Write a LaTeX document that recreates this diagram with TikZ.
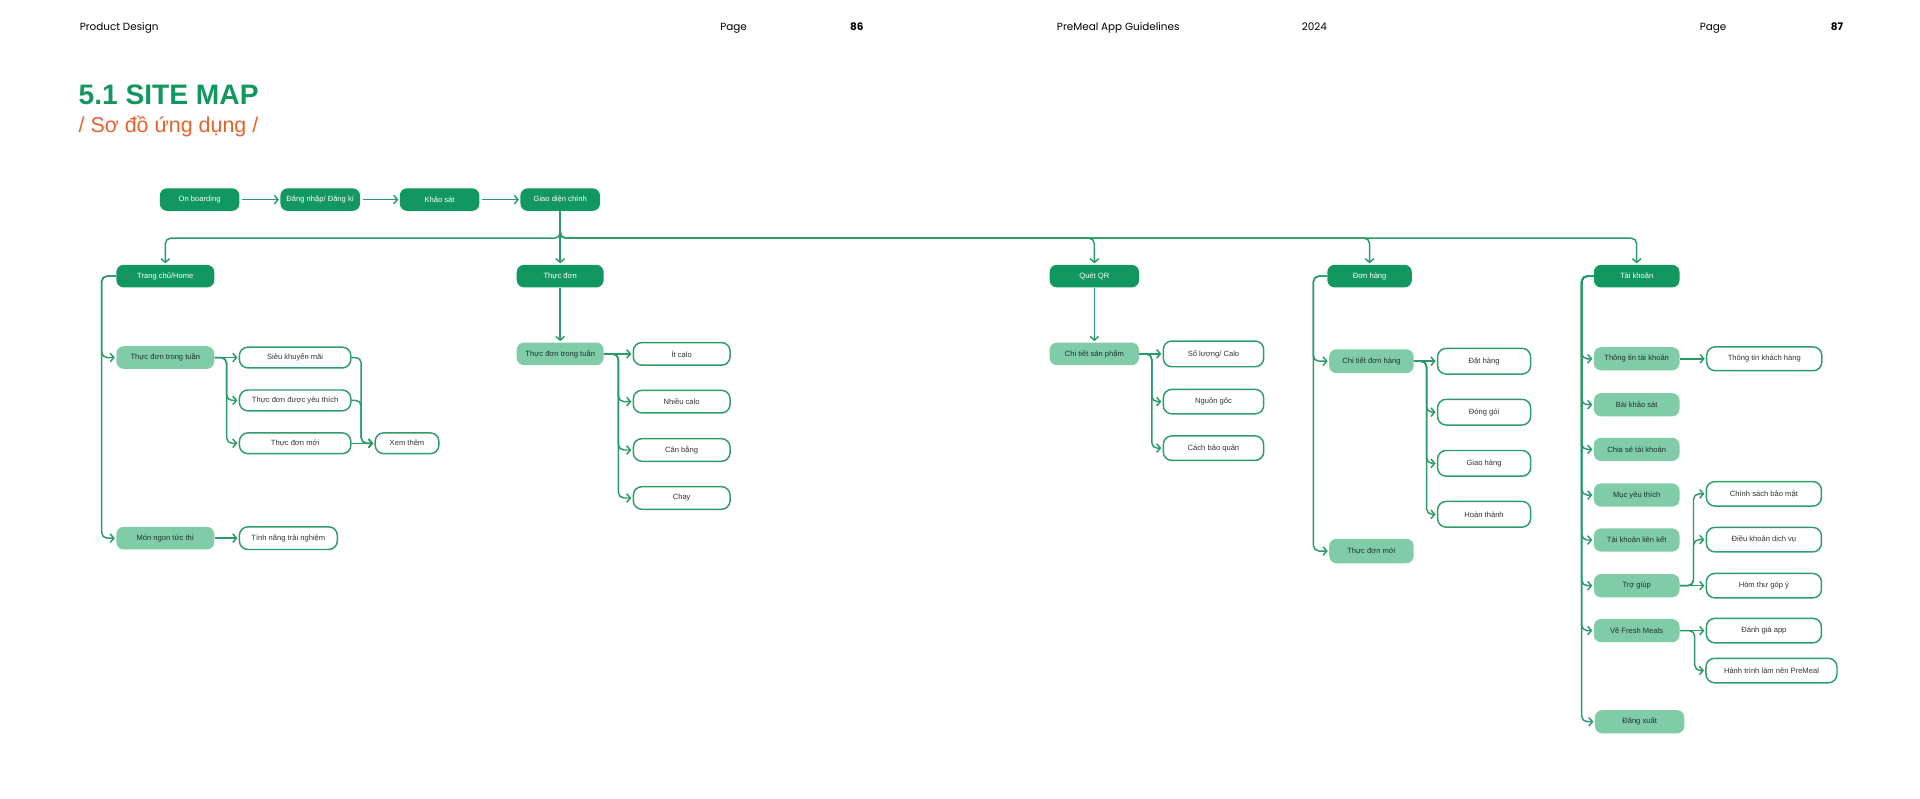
\documentclass[tikz,border=0pt]{standalone}
\usepackage{fontspec}
\setmainfont{Liberation Sans}
\newfontfamily\headfont{Poppins}
\usepackage{tikz}
\usepackage{xcolor}
\usetikzlibrary{arrows.meta}

\definecolor{dgreen}{HTML}{11975F}
\definecolor{lgreen}{HTML}{80CCA8}
\definecolor{leafline}{HTML}{2E9C6D}
\definecolor{linkcol}{HTML}{2A9A6A}
\definecolor{subtext}{HTML}{1E3328}
\definecolor{leaftext}{HTML}{333333}
\definecolor{tgreen}{HTML}{12985F}
\definecolor{orng}{HTML}{E6622C}

\begin{document}
\begin{tikzpicture}[x=1pt, y=-1pt,
    box/.style={rounded corners=6pt, inner sep=0pt, minimum height=18.5pt, font=\fontsize{6.2}{7}\selectfont},
    top/.style={box, fill=dgreen, text=white},
    sub/.style={box, fill=lgreen, text=subtext},
    leaf/.style={box, draw=leafline, line width=1.2pt, fill=white, text=leaftext, rounded corners=7pt},
    wd/.style={minimum width=#1pt},
    head/.style={anchor=base west, inner sep=0pt, font=\headfont\fontsize{8.5}{10}\selectfont},
    link/.style={draw=linkcol, line width=1.2pt, rounded corners=4.5pt, -{Straight Barb[length=3pt,width=7pt]}, shorten >=1pt}]
    \useasboundingbox (0,0) rectangle (1568,652);

    % header
    \node[head] (h1) at (65,25) {Product Design};
    \node[head] (h2) at (588,25) {Page};
    \node[head, font=\headfont\bfseries\fontsize{8.5}{10}\selectfont] (h3) at (694,25) {86};
    \node[head] (h4) at (863,25) {PreMeal App Guidelines};
    \node[head] (h5) at (1063,25) {2024};
    \node[head] (h6) at (1388,25) {Page};
    \node[head, font=\headfont\bfseries\fontsize{8.5}{10}\selectfont] (h7) at (1495,25) {87};
    \node[anchor=base west, inner sep=0pt, text=tgreen, font=\bfseries\fontsize{23}{26}\selectfont] (title) at (64,85) {5.1 SITE MAP};
    \node[anchor=base west, inner sep=0pt, text=orng, font=\fontsize{17.5}{20}\selectfont] (subtitle) at (64,108) {/ Sơ đồ ứng dụng /};

    % top row
    \node[top, wd=65] (on) at (163,163) {On boarding};
    \node[top, wd=65] (login) at (261.5,163) {Đăng nhập/ Đăng kí};
    \node[top, wd=65] (survey) at (359,163) {Khảo sát};
    \node[top, wd=65] (main) at (457.5,163) {Giao diện chính};

    % first level
    \node[top, wd=80] (home) at (135,225.5) {Trang chủ/Home};
    \node[top, wd=71] (menu) at (457.5,225.5) {Thực đơn};
    \node[top, wd=73] (qr) at (893.7,225.5) {Quét QR};
    \node[top, wd=69] (order) at (1118.5,225.5) {Đơn hàng};
    \node[top, wd=70] (acct) at (1336.6,225.5) {Tài khoản};

    % home
    \node[sub, wd=80] (week) at (135,292) {Thực đơn trong tuần};
    \node[sub, wd=80] (instant) at (135,439.5) {Món ngon tức thì};
    \node[leaf, wd=91, minimum height=17pt] (sale) at (241,292) {Siêu khuyến mãi};
    \node[leaf, wd=91, minimum height=17pt] (fav) at (241,327) {Thực đơn được yêu thích};
    \node[leaf, wd=91, minimum height=17pt] (newm) at (241,362) {Thực đơn mới};
    \node[leaf, wd=52, minimum height=17pt] (more) at (332.4,362) {Xem thêm};
    \node[leaf, wd=80] (trial) at (235.5,439.5) {Tính năng trải nghiệm};

    % menu
    \node[sub, wd=71] (mweek) at (457.5,289) {Thực đơn trong tuần};
    \node[leaf, wd=79] (low) at (556.7,289) {Ít calo};
    \node[leaf, wd=79] (high) at (556.7,328) {Nhiều calo};
    \node[leaf, wd=79] (bal) at (556.7,367.5) {Cân bằng};
    \node[leaf, wd=79] (veg) at (556.7,406.7) {Chay};

    % qr
    \node[sub, wd=73] (prod) at (893.7,289) {Chi tiết sản phẩm};
    \node[leaf, wd=82, minimum height=21pt] (qty) at (991,289) {Số lượng/ Calo};
    \node[leaf, wd=82, minimum height=20pt] (src) at (991,328) {Nguồn gốc};
    \node[leaf, wd=82, minimum height=20pt] (store) at (991,366) {Cách bảo quản};

    % order
    \node[sub, wd=69, minimum height=19.5pt] (odetail) at (1120,295) {Chi tiết đơn hàng};
    \node[sub, wd=69, minimum height=20pt] (onew) at (1120,450) {Thực đơn mới};
    \node[leaf, wd=76, minimum height=21pt] (place) at (1212,295) {Đặt hàng};
    \node[leaf, wd=76, minimum height=21pt] (pack) at (1212,336.6) {Đóng gói};
    \node[leaf, wd=76, minimum height=21pt] (ship) at (1212,378.4) {Giao hàng};
    \node[leaf, wd=76, minimum height=21pt] (done) at (1212,420) {Hoàn thành};

    % account
    \node[sub, wd=70, minimum height=19pt] (ainfo) at (1336.6,293) {Thông tin tài khoản};
    \node[sub, wd=70, minimum height=19pt] (apoll) at (1336.6,330.5) {Bài khảo sát};
    \node[sub, wd=70, minimum height=19pt] (ashare) at (1336.6,367) {Chia sẻ tài khoản};
    \node[sub, wd=70, minimum height=19pt] (afav) at (1336.6,404.3) {Mục yêu thích};
    \node[sub, wd=70, minimum height=19pt] (alink) at (1336.6,441) {Tài khoản liên kết};
    \node[sub, wd=70, minimum height=19pt] (ahelp) at (1336.6,478.3) {Trợ giúp};
    \node[sub, wd=70, minimum height=19pt] (about) at (1336.6,515) {Về Fresh Meals};
    \node[sub, wd=73, minimum height=19pt] (aout) at (1339,589.4) {Đăng xuất};
    \node[leaf, wd=94, minimum height=19.5pt] (cust) at (1440.8,293) {Thông tin khách hàng};
    \node[leaf, wd=94, minimum height=20pt] (privacy) at (1440.5,403.3) {Chính sách bảo mật};
    \node[leaf, wd=94, minimum height=20pt] (terms) at (1440.5,440.7) {Điều khoản dịch vụ};
    \node[leaf, wd=94, minimum height=20pt] (inbox) at (1440.5,478.3) {Hòm thư góp ý};
    \node[leaf, wd=94, minimum height=20pt] (rate) at (1440.5,515) {Đánh giá app};
    \node[leaf, wd=107, minimum height=20pt] (journey) at (1446.7,547.6) {Hành trình làm nên PreMeal};

    % bends
    \coordinate (bus) at (457.5,194.5);
    \coordinate (ht) at (83,0);
    \coordinate (hb) at (185,0);
    \coordinate (hm) at (295,0);
    \coordinate (mb) at (505,0);
    \coordinate (qb) at (940.6,0);
    \coordinate (ot) at (1072.6,0);
    \coordinate (ob) at (1165,0);
    \coordinate (at) at (1291.7,0);
    \coordinate (af) at (1383,0);
    \coordinate (ab) at (1384,0);

    \draw[link, shorten <=2pt] (on) -- (login);
    \draw[link, shorten <=2pt] (login) -- (survey);
    \draw[link, shorten <=2pt] (survey) -- (main);
    \draw[link] (main) -- (menu);
    \draw[link] (main.south) -- (bus) -| (home);
    \draw[link] (main.south) -- (bus) -| (qr);
    \draw[link] (main.south) -- (bus) -| (order);
    \draw[link] (main.south) -- (bus) -| (acct);

    \draw[link] (home.west) -| (ht |- week.west) -- (week);
    \draw[link] (home.west) -| (ht |- instant.west) -- (instant);
    \draw[link] (week) -- (sale);
    \draw[link] (week.east) -| (hb |- fav.west) -- (fav);
    \draw[link] (week.east) -| (hb |- newm.west) -- (newm);
    \draw[link] (sale.east) -| (hm |- more.west) -- (more);
    \draw[link] (fav.east) -| (hm |- more.west) -- (more);
    \draw[link] (newm) -- (more);
    \draw[link] (instant) -- (trial);

    \draw[link] (menu) -- (mweek);
    \draw[link] (mweek) -- (low);
    \draw[link] (mweek.east) -| (mb |- high.west) -- (high);
    \draw[link] (mweek.east) -| (mb |- bal.west) -- (bal);
    \draw[link] (mweek.east) -| (mb |- veg.west) -- (veg);

    \draw[link] (qr) -- (prod);
    \draw[link] (prod) -- (qty);
    \draw[link] (prod.east) -| (qb |- src.west) -- (src);
    \draw[link] (prod.east) -| (qb |- store.west) -- (store);

    \draw[link] (order.west) -| (ot |- odetail.west) -- (odetail);
    \draw[link] (order.west) -| (ot |- onew.west) -- (onew);
    \draw[link] (odetail) -- (place);
    \draw[link] (odetail.east) -| (ob |- pack.west) -- (pack);
    \draw[link] (odetail.east) -| (ob |- ship.west) -- (ship);
    \draw[link] (odetail.east) -| (ob |- done.west) -- (done);

    \draw[link] (acct.west) -| (at |- ainfo.west) -- (ainfo);
    \draw[link] (acct.west) -| (at |- apoll.west) -- (apoll);
    \draw[link] (acct.west) -| (at |- ashare.west) -- (ashare);
    \draw[link] (acct.west) -| (at |- afav.west) -- (afav);
    \draw[link] (acct.west) -| (at |- alink.west) -- (alink);
    \draw[link] (acct.west) -| (at |- ahelp.west) -- (ahelp);
    \draw[link] (acct.west) -| (at |- about.west) -- (about);
    \draw[link] (acct.west) -| (at |- aout.west) -- (aout);
    \draw[link] (ainfo) -- (cust);
    \draw[link] (ahelp) -- (inbox);
    \draw[link] (ahelp.east) -| (af |- privacy.west) -- (privacy);
    \draw[link] (ahelp.east) -| (af |- terms.west) -- (terms);
    \draw[link] (about) -- (rate);
    \draw[link] (about.east) -| (ab |- journey.west) -- (journey);
\end{tikzpicture}
\end{document}
